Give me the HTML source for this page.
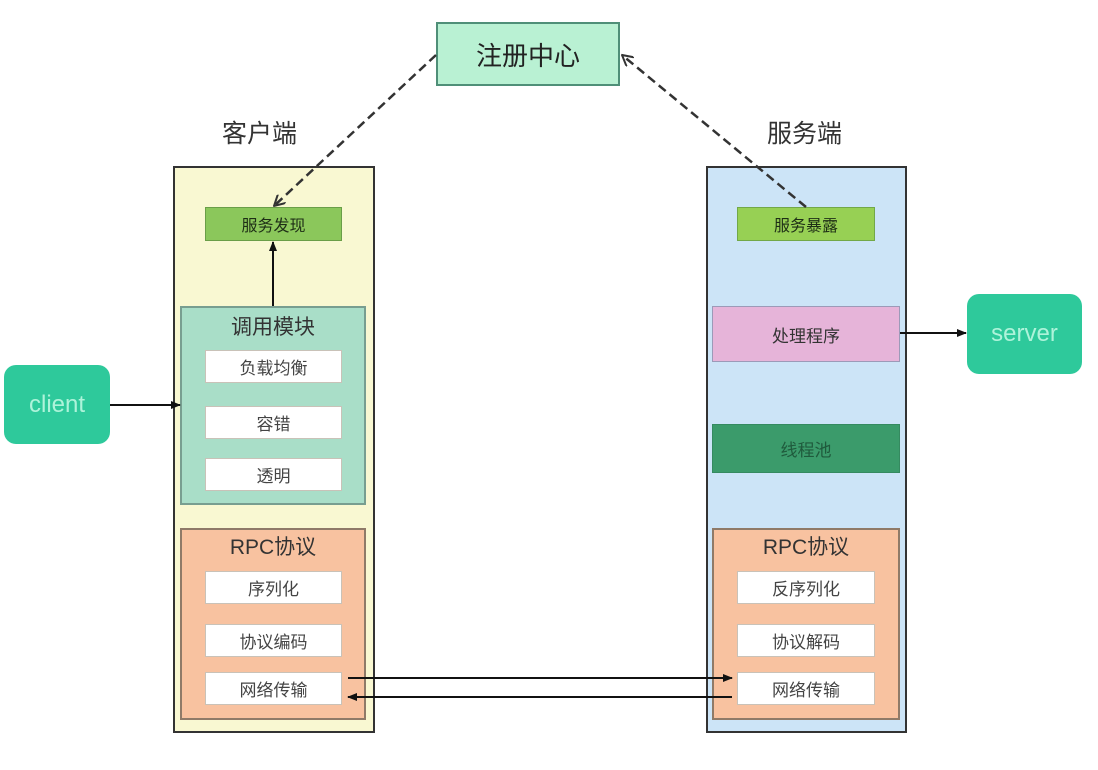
<!DOCTYPE html>
<html><head><meta charset="utf-8">
<style>
html,body{margin:0;padding:0;background:#fff;}
body{width:1098px;height:770px;position:relative;overflow:hidden;font-family:"Liberation Sans","Noto Sans CJK SC",sans-serif;color:#333;}
.a{position:absolute;box-sizing:border-box;display:flex;align-items:center;justify-content:center;}
.w{background:#fff;border:1.5px solid #c9c2b8;font-size:17px;color:#444;}
.lbl{position:absolute;font-size:25px;color:#333;}
</style></head><body>

<!-- registry -->
<div class="a" style="left:436px;top:22px;width:184px;height:64px;background:#b9f1d3;border:2px solid #4f8f78;font-size:26px;color:#222;">注册中心</div>

<div class="lbl" style="left:222px;top:114px;">客户端</div>
<div class="lbl" style="left:767px;top:114px;">服务端</div>

<!-- client container -->
<div class="a" style="left:173px;top:166px;width:202px;height:567px;background:#f9f8d2;border:2px solid #333;"></div>
<div class="a" style="left:205px;top:207px;width:137px;height:34px;background:#8bc75b;border:1.5px solid #6a9e48;font-size:16px;color:#1e2e16;">服务发现</div>

<div class="a" style="left:180px;top:306px;width:186px;height:199px;background:#a9dec8;border:2px solid #789e90;align-items:flex-start;"><span style="margin-top:3px;font-size:21px;color:#333;">调用模块</span></div>
<div class="a w" style="left:205px;top:350px;width:137px;height:33px;">负载均衡</div>
<div class="a w" style="left:205px;top:406px;width:137px;height:33px;">容错</div>
<div class="a w" style="left:205px;top:458px;width:137px;height:33px;">透明</div>

<div class="a" style="left:180px;top:528px;width:186px;height:192px;background:#f8c2a0;border:2px solid #8f7a68;align-items:flex-start;"><span style="margin-top:1px;font-size:21px;color:#333;">RPC协议</span></div>
<div class="a w" style="left:205px;top:571px;width:137px;height:33px;">序列化</div>
<div class="a w" style="left:205px;top:624px;width:137px;height:33px;">协议编码</div>
<div class="a w" style="left:205px;top:672px;width:137px;height:33px;">网络传输</div>

<!-- server container -->
<div class="a" style="left:706px;top:166px;width:201px;height:567px;background:#cce4f7;border:2px solid #333;"></div>
<div class="a" style="left:737px;top:207px;width:138px;height:34px;background:#97d054;border:1.5px solid #72a848;font-size:16px;color:#1e2e16;">服务暴露</div>
<div class="a" style="left:712px;top:306px;width:188px;height:56px;background:#e6b4d9;border:1.5px solid #9c9ab8;font-size:17px;color:#333;">处理程序</div>
<div class="a" style="left:712px;top:424px;width:188px;height:49px;background:#3b9b6b;border:1px solid #358a60;font-size:17px;color:#1f5a3c;">线程池</div>

<div class="a" style="left:712px;top:528px;width:188px;height:192px;background:#f8c2a0;border:2px solid #8f7a68;align-items:flex-start;"><span style="margin-top:1px;font-size:21px;color:#333;">RPC协议</span></div>
<div class="a w" style="left:737px;top:571px;width:138px;height:33px;">反序列化</div>
<div class="a w" style="left:737px;top:624px;width:138px;height:33px;">协议解码</div>
<div class="a w" style="left:737px;top:672px;width:138px;height:33px;">网络传输</div>

<!-- nodes -->
<div class="a" style="left:4px;top:365px;width:106px;height:79px;background:#2ec99b;border-radius:12px;font-size:24px;color:#aef3da;">client</div>
<div class="a" style="left:967px;top:294px;width:115px;height:80px;background:#2ec99b;border-radius:12px;font-size:24px;color:#aef3da;">server</div>

<svg width="1098" height="770" style="position:absolute;left:0;top:0;" xmlns="http://www.w3.org/2000/svg">
<defs>
<marker id="ah" markerWidth="10" markerHeight="8" refX="9" refY="4" orient="auto" markerUnits="userSpaceOnUse">
<path d="M0,0 L10,4 L0,8 Z" fill="#111"/></marker>
<marker id="oh" markerWidth="12" markerHeight="12" refX="11" refY="6" orient="auto" markerUnits="userSpaceOnUse">
<path d="M0,0 L11,6 L0,12" fill="none" stroke="#333" stroke-width="2"/></marker>
</defs>
<g stroke="#333" stroke-width="2.5" stroke-dasharray="9,5" fill="none">
<line x1="436" y1="55" x2="274" y2="206" marker-end="url(#oh)"/>
<line x1="806" y1="207" x2="622" y2="55" marker-end="url(#oh)"/>
</g>
<g stroke="#111" stroke-width="2" fill="none">
<line x1="273" y1="306" x2="273" y2="242" marker-end="url(#ah)"/>
<line x1="110" y1="405" x2="180" y2="405" marker-end="url(#ah)"/>
<line x1="900" y1="333" x2="966" y2="333" marker-end="url(#ah)"/>
<line x1="348" y1="678" x2="732" y2="678" marker-end="url(#ah)"/>
<line x1="732" y1="697" x2="348" y2="697" marker-end="url(#ah)"/>
</g>
</svg>
</body></html>
